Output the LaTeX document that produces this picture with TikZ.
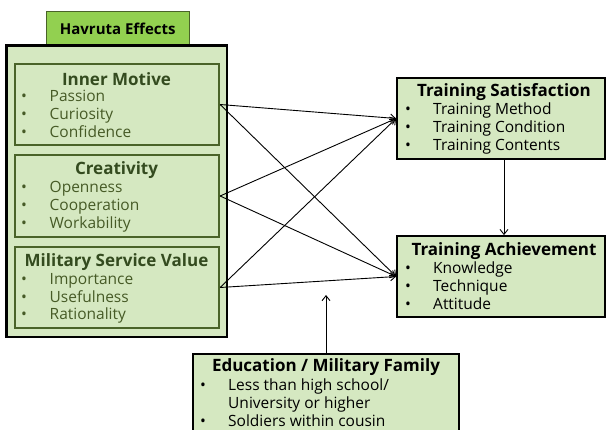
\documentclass[tikz,border=0pt]{standalone}
\usepackage{fontspec}
\setmainfont{Open Sans}
\usetikzlibrary{arrows.meta}
\definecolor{lg}{HTML}{D5E8C1}
\definecolor{tabg}{HTML}{92D050}
\definecolor{dg}{HTML}{4A6329}
\definecolor{tg}{HTML}{344B1F}
\definecolor{ig}{HTML}{465A26}
\tikzset{
  outerbox/.style={draw=black,line width=2.8pt,fill=lg,inner sep=0pt},
  tabbox/.style={draw=dg,line width=0.8pt,fill=tabg,inner sep=0pt},
  innerbox/.style={draw=dg,line width=2.2pt,fill=lg,inner sep=0pt},
  rbox/.style={draw=black,line width=1.8pt,fill=lg,inner sep=0pt},
  ltitle/.style={font=\fontsize{17}{19}\selectfont\bfseries,text=tg,inner sep=0pt},
  rtitle/.style={font=\fontsize{17}{19}\selectfont\bfseries,text=black,inner sep=0pt},
  litem/.style={font=\fontsize{15.5}{17}\selectfont,text=ig,anchor=west,inner sep=0pt,text height=11pt,text depth=3pt},
  ritem/.style={font=\fontsize{15.5}{17}\selectfont,text=black,anchor=west,inner sep=0pt,text height=11pt,text depth=3pt},
  arr/.style={line width=0.9pt,-{Straight Barb[length=5pt,width=8pt]}}
}
\begin{document}
\begin{tikzpicture}[x=1pt,y=-1pt]
\useasboundingbox (0,0) rectangle (608,430);
\clip (0,0) rectangle (608,430);
% left group
\node[tabbox,minimum width=142.5pt,minimum height=32.6pt] (tab) at (117.75,28) {};
\node[font=\fontsize{15}{17}\selectfont\bfseries,inner sep=0pt] (tabt) at (117.75,29) {Havruta Effects};
\node[outerbox,minimum width=220.4pt,minimum height=291.3pt] (outer) at (116.8,191.35) {};
\node[innerbox,minimum width=204.3pt,minimum height=81pt] (im) at (116.85,104.5) {};
\node[innerbox,minimum width=204.3pt,minimum height=82pt] (cr) at (116.85,196) {};
\node[innerbox,minimum width=204.3pt,minimum height=81pt] (ms) at (116.85,287.5) {};
% inner motive
\node[ltitle] (imt) at (116.5,79) {Inner Motive};
\node[litem] (imb1) at (21,98) {•}; \node[litem] (imi1) at (49.5,98) {Passion};
\node[litem] (imb2) at (21,116) {•}; \node[litem] (imi2) at (49.5,116) {Curiosity};
\node[litem] (imb3) at (21,134) {•}; \node[litem] (imi3) at (49.5,134) {Confidence};
% creativity
\node[ltitle] (crt) at (116.5,170) {Creativity};
\node[litem] (crb1) at (21,189) {•}; \node[litem] (cri1) at (49.5,189) {Openness};
\node[litem] (crb2) at (21,207) {•}; \node[litem] (cri2) at (49.5,207) {Cooperation};
\node[litem] (crb3) at (21,225) {•}; \node[litem] (cri3) at (49.5,225) {Workability};
% military service value
\node[ltitle] (mst) at (116.5,262) {Military Service Value};
\node[litem] (msb1) at (21,281) {•}; \node[litem] (msi1) at (49.5,281) {Importance};
\node[litem] (msb2) at (21,299) {•}; \node[litem] (msi2) at (49.5,299) {Usefulness};
\node[litem] (msb3) at (21,316) {•}; \node[litem] (msi3) at (49.5,316) {Rationality};
% training satisfaction
\node[rbox,minimum width=208pt,minimum height=81pt] (ts) at (501,118.5) {};
\node[rtitle] (tst) at (504,92) {Training Satisfaction};
\node[ritem] (tsb1) at (405,111) {•}; \node[ritem] (tsi1) at (433,111) {Training Method};
\node[ritem] (tsb2) at (405,129) {•}; \node[ritem] (tsi2) at (433,129) {Training Condition};
\node[ritem] (tsb3) at (405,147) {•}; \node[ritem] (tsi3) at (433,147) {Training Contents};
% training achievement
\node[rbox,minimum width=208pt,minimum height=81pt] (ta) at (501,276.5) {};
\node[rtitle] (tat) at (504,251) {Training Achievement};
\node[ritem] (tab1) at (405,270) {•}; \node[ritem] (tai1) at (433,270) {Knowledge};
\node[ritem] (tab2) at (405,288) {•}; \node[ritem] (tai2) at (433,288) {Technique};
\node[ritem] (tab3) at (405,306) {•}; \node[ritem] (tai3) at (433,306) {Attitude};
% education
\node[rbox,minimum width=266pt,minimum height=91pt] (edu) at (326,399.5) {};
\node[rtitle] (edut) at (326,367) {Education / Military Family};
\node[ritem] (edb1) at (200,386) {•}; \node[ritem] (edi1) at (228,386) {Less than high school/};
\node[ritem] (edi2) at (228,404) {University or higher};
\node[ritem] (edb3) at (200,422) {•}; \node[ritem] (edi3) at (228,422) {Soldiers within cousin};
% connectors
\foreach \s in {im,cr,ms}{
  \draw[arr] (\s.east) -- (ts.west);
  \draw[arr] (\s.east) -- (ta.west);
}
\draw[arr] ([xshift=3pt]ts.south) -- ([xshift=3pt]ta.north);
\coordinate (eduend) at (326,295);
\draw[arr] (edu.north) -- (eduend);
\end{tikzpicture}
\end{document}
